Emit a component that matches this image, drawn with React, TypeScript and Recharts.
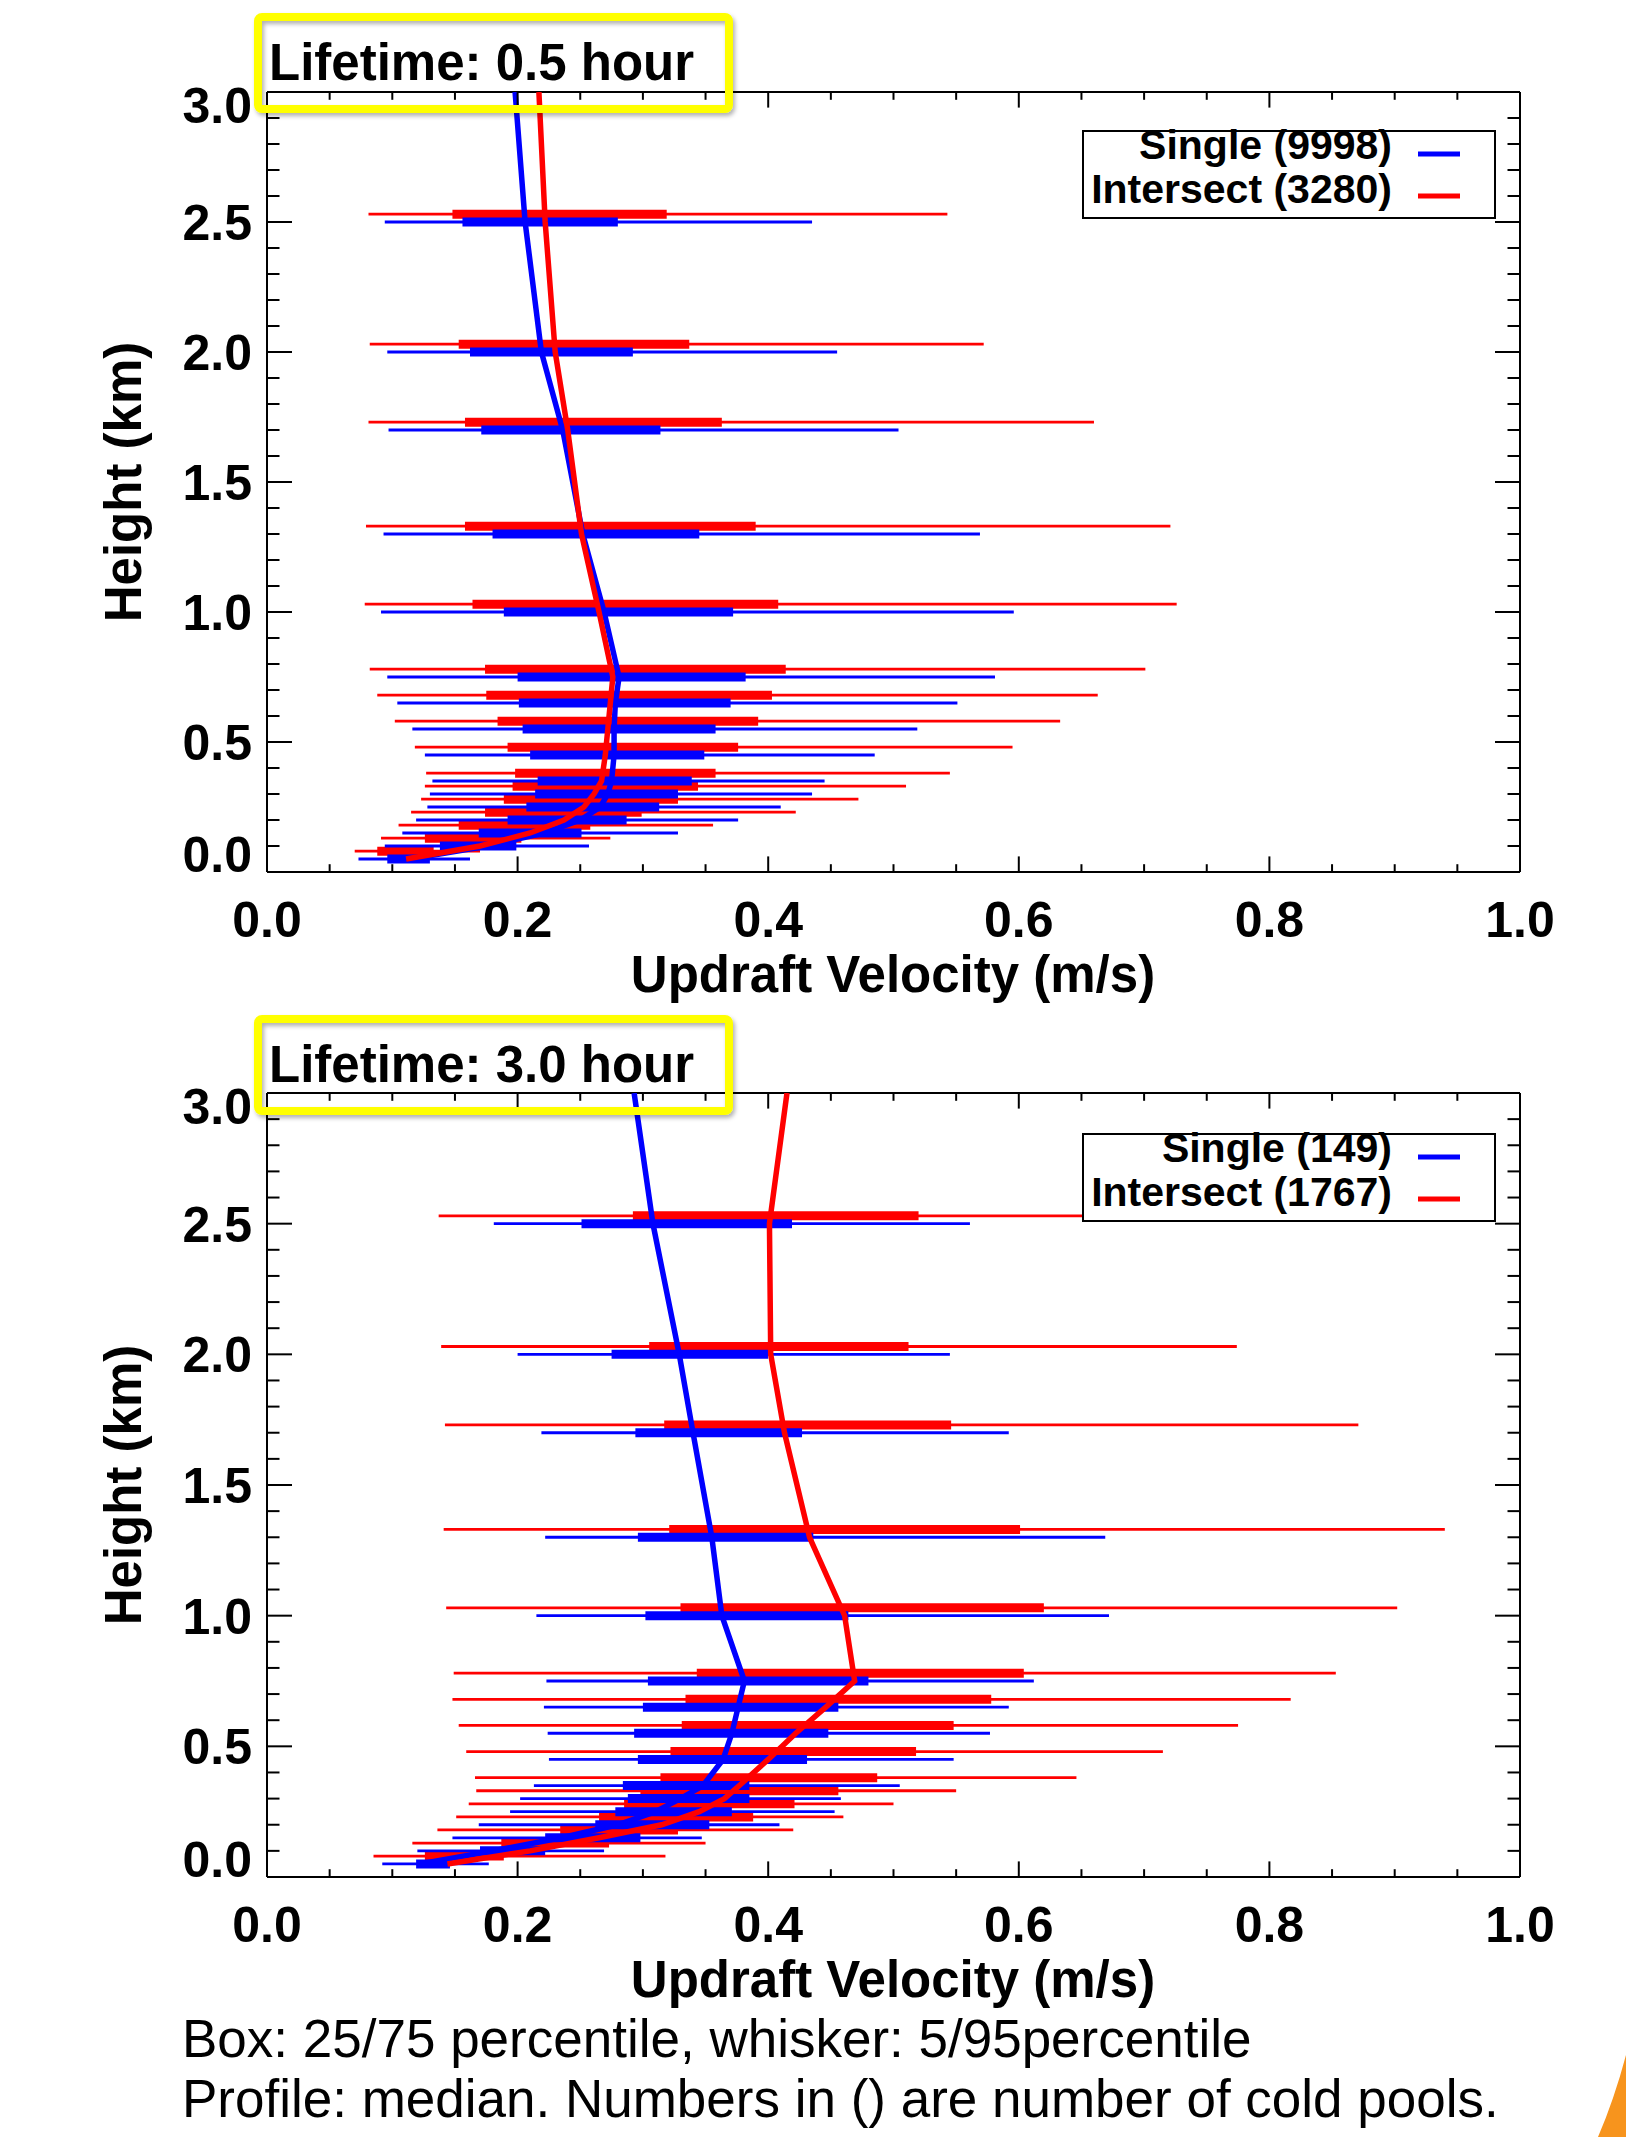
import React from 'react';
import { ComposedChart, Scatter, XAxis, YAxis, ErrorBar, ReferenceLine } from 'recharts';

const FONT = '"Liberation Sans", Arial, Helvetica, sans-serif';

// ---------- axes ----------
const xTicks = [0, 0.05, 0.1, 0.15, 0.2, 0.25, 0.3, 0.35, 0.4, 0.45, 0.5, 0.55, 0.6, 0.65, 0.7, 0.75, 0.8, 0.85, 0.9, 0.95, 1.0];
const xMajor = [0, 0.2, 0.4, 0.6, 0.8, 1.0];
const yTicks = [0, 0.1, 0.2, 0.3, 0.4, 0.5, 0.6, 0.7, 0.8, 0.9, 1.0, 1.1, 1.2, 1.3, 1.4, 1.5, 1.6, 1.7, 1.8, 1.9, 2.0, 2.1, 2.2, 2.3, 2.4, 2.5, 2.6, 2.7, 2.8, 2.9, 3.0];
const yMajor = [0, 0.5, 1.0, 1.5, 2.0, 2.5, 3.0];

// ---------- heights (km) ----------
const levels = [0.05, 0.1, 0.15, 0.2, 0.25, 0.3, 0.35, 0.45, 0.55, 0.65, 0.75, 1.0, 1.3, 1.7, 2.0, 2.5];
const profileHeights = [0.05, 0.1, 0.15, 0.2, 0.25, 0.3, 0.35, 0.45, 0.55, 0.65, 0.75, 1.0, 1.3, 1.7, 2.0, 2.5, 3.0];

// ---------- Lifetime 0.5 hour ----------
const single05P5 = [0.073, 0.094, 0.108, 0.119, 0.128, 0.130, 0.132, 0.126, 0.116, 0.104, 0.096, 0.091, 0.093, 0.097, 0.096, 0.094];
const single05P25 = [0.096, 0.138, 0.169, 0.192, 0.207, 0.214, 0.216, 0.210, 0.204, 0.201, 0.200, 0.189, 0.180, 0.171, 0.162, 0.156];
const single05P75 = [0.130, 0.199, 0.251, 0.287, 0.313, 0.328, 0.339, 0.349, 0.358, 0.370, 0.382, 0.372, 0.345, 0.314, 0.292, 0.280];
const single05P95 = [0.162, 0.257, 0.328, 0.376, 0.410, 0.435, 0.445, 0.485, 0.519, 0.551, 0.581, 0.596, 0.569, 0.504, 0.455, 0.435];
const single05Median = [0.114, 0.176, 0.221, 0.250, 0.266, 0.272, 0.275, 0.277, 0.277, 0.278, 0.281, 0.269, 0.252, 0.236, 0.219, 0.206, 0.198];

const inter05P5 = [0.070, 0.091, 0.105, 0.115, 0.123, 0.126, 0.127, 0.118, 0.102, 0.088, 0.082, 0.078, 0.079, 0.081, 0.082, 0.081];
const inter05P25 = [0.088, 0.126, 0.153, 0.174, 0.189, 0.196, 0.198, 0.192, 0.184, 0.175, 0.174, 0.164, 0.158, 0.158, 0.153, 0.148];
const inter05P75 = [0.133, 0.203, 0.258, 0.299, 0.328, 0.344, 0.358, 0.376, 0.392, 0.403, 0.414, 0.408, 0.390, 0.363, 0.337, 0.319];
const inter05P95 = [0.170, 0.274, 0.356, 0.422, 0.472, 0.510, 0.545, 0.595, 0.633, 0.663, 0.701, 0.726, 0.721, 0.660, 0.572, 0.543];
const inter05Median = [0.111, 0.170, 0.210, 0.237, 0.253, 0.261, 0.267, 0.270, 0.272, 0.274, 0.276, 0.265, 0.251, 0.240, 0.230, 0.222, 0.217];

// ---------- Lifetime 3.0 hour ----------
const single30P5 = [0.092, 0.120, 0.148, 0.169, 0.194, 0.202, 0.213, 0.225, 0.224, 0.221, 0.223, 0.215, 0.222, 0.219, 0.200, 0.181];
const single30P25 = [0.119, 0.170, 0.222, 0.262, 0.278, 0.288, 0.284, 0.296, 0.293, 0.300, 0.304, 0.302, 0.296, 0.294, 0.275, 0.251];
const single30P75 = [0.146, 0.222, 0.298, 0.353, 0.371, 0.385, 0.385, 0.431, 0.448, 0.456, 0.480, 0.464, 0.436, 0.427, 0.400, 0.419];
const single30P95 = [0.177, 0.269, 0.347, 0.409, 0.453, 0.458, 0.505, 0.548, 0.577, 0.592, 0.612, 0.672, 0.669, 0.592, 0.545, 0.561];
const single30Median = [0.122, 0.180, 0.235, 0.280, 0.310, 0.330, 0.348, 0.364, 0.371, 0.376, 0.381, 0.363, 0.355, 0.340, 0.329, 0.308, 0.293];

const inter30P5 = [0.085, 0.116, 0.136, 0.151, 0.161, 0.167, 0.166, 0.159, 0.153, 0.148, 0.149, 0.143, 0.141, 0.142, 0.139, 0.137];
const inter30P25 = [0.126, 0.187, 0.234, 0.265, 0.285, 0.298, 0.314, 0.322, 0.331, 0.334, 0.343, 0.330, 0.321, 0.317, 0.305, 0.292];
const inter30P75 = [0.189, 0.273, 0.328, 0.388, 0.421, 0.456, 0.487, 0.518, 0.548, 0.578, 0.604, 0.620, 0.601, 0.546, 0.512, 0.520];
const inter30P95 = [0.318, 0.350, 0.420, 0.460, 0.500, 0.550, 0.646, 0.715, 0.775, 0.817, 0.853, 0.902, 0.940, 0.871, 0.774, 0.800];
const inter30Median = [0.144, 0.210, 0.265, 0.315, 0.345, 0.365, 0.377, 0.400, 0.422, 0.446, 0.469, 0.461, 0.433, 0.413, 0.402, 0.401, 0.415];

// ---------- texts ----------
const panelTitles = ['Lifetime: 0.5 hour', 'Lifetime: 3.0 hour'];
const legendTop = ['Single (9998)', 'Intersect (3280)'];
const legendBottom = ['Single (149)', 'Intersect (1767)'];
const xTitle = 'Updraft Velocity (m/s)';
const yTitle = 'Height (km)';
const notes = ['Box: 25/75 percentile, whisker: 5/95percentile', 'Profile: median. Numbers in () are number of cold pools.'];

const BLUE = '#0000ff';
const RED = '#ff0000';
const RED_DODGE_KM = 0.03; // intersect boxes are drawn slightly above the single ones

function boxRows(median: number[], p5: number[], p25: number[], p75: number[], p95: number[], dodge: number) {
  return levels.map((h, i) => ({
    x: median[i],
    y: h + dodge,
    w: [median[i] - p5[i], p95[i] - median[i]],
    b: [median[i] - p25[i], p75[i] - median[i]],
  }));
}
function profileRows(median: number[]) {
  return profileHeights.map((h, i) => ({ x: median[i], y: h }));
}

const near = (v: number, list: number[]) => list.some((m) => Math.abs(m - v) < 1e-6);

const XTick = (props: any) => {
  const { x, y, payload, plotH } = props;
  const v = Number(payload.value);
  const major = near(v, xMajor);
  const len = major ? 15.6 : 7.8;
  return (
    <g>
      <line x1={x} x2={x} y1={y} y2={y - len} stroke="#000" strokeWidth={2} />
      <line x1={x} x2={x} y1={y - plotH} y2={y - plotH + len} stroke="#000" strokeWidth={2} />
      {major ? (
        <text x={x} y={y + 65} textAnchor="middle" fontFamily={FONT} fontWeight="bold" fontSize={50} fill="#000">
          {v.toFixed(1)}
        </text>
      ) : null}
    </g>
  );
};

const YTick = (props: any) => {
  const { x, y, payload, plotW } = props;
  const v = Number(payload.value);
  const major = near(v, yMajor);
  const len = major ? 25 : 12.5;
  let dy = 18;
  if (v > 2.999) dy = 31;
  if (v < 0.001) dy = 0;
  return (
    <g>
      <line x1={x} x2={x + len} y1={y} y2={y} stroke="#000" strokeWidth={2} />
      <line x1={x + plotW} x2={x + plotW - len} y1={y} y2={y} stroke="#000" strokeWidth={2} />
      {major ? (
        <text x={x - 15} y={y + dy} textAnchor="end" fontFamily={FONT} fontWeight="bold" fontSize={50} fill="#000">
          {v.toFixed(1)}
        </text>
      ) : null}
    </g>
  );
};

const Empty = () => <g />;

type PanelProps = {
  top: number;
  marginTop: number;
  xAxisH: number;
  sP5: number[]; sP25: number[]; sP75: number[]; sP95: number[]; sMed: number[];
  iP5: number[]; iP25: number[]; iP75: number[]; iP95: number[]; iMed: number[];
};

const CH_W = 1626;
const CH_H = 1000;
const Y_AXIS_W = 267;
const RIGHT_M = 106;

function Panel(p: PanelProps) {
  const plotW = CH_W - Y_AXIS_W - RIGHT_M;
  const plotH = CH_H - p.marginTop - p.xAxisH;
  const redBoxes = boxRows(p.iMed, p.iP5, p.iP25, p.iP75, p.iP95, RED_DODGE_KM);
  const blueBoxes = boxRows(p.sMed, p.sP5, p.sP25, p.sP75, p.sP95, 0);
  return (
    <div style={{ position: 'absolute', left: 0, top: p.top, width: CH_W, height: CH_H }}>
      <ComposedChart width={CH_W} height={CH_H} margin={{ top: p.marginTop, right: RIGHT_M, left: 0, bottom: 0 }}>
        <XAxis
          type="number"
          dataKey="x"
          domain={[0, 1]}
          allowDataOverflow
          ticks={xTicks}
          interval={0}
          tickSize={0}
          tickMargin={0}
          tickLine={false}
          axisLine={{ stroke: '#000', strokeWidth: 2 }}
          height={p.xAxisH}
          tick={<XTick plotH={plotH} />}
        />
        <YAxis
          type="number"
          dataKey="y"
          domain={[0, 3]}
          allowDataOverflow
          ticks={yTicks}
          interval={0}
          tickSize={0}
          tickMargin={0}
          tickLine={false}
          axisLine={{ stroke: '#000', strokeWidth: 2 }}
          width={Y_AXIS_W}
          tick={<YTick plotW={plotW} />}
        />
        <ReferenceLine y={3} stroke="#000" strokeWidth={2} />
        <ReferenceLine x={1} stroke="#000" strokeWidth={2} />
        <Scatter data={redBoxes} fill={RED} shape={Empty} isAnimationActive={false} legendType="none">
          <ErrorBar dataKey="w" direction="x" width={0} stroke={RED} strokeWidth={2.8} isAnimationActive={false} />
          <ErrorBar dataKey="b" direction="x" width={0} stroke={RED} strokeWidth={9} isAnimationActive={false} />
        </Scatter>
        <Scatter data={blueBoxes} fill={BLUE} shape={Empty} isAnimationActive={false} legendType="none">
          <ErrorBar dataKey="w" direction="x" width={0} stroke={BLUE} strokeWidth={2.8} isAnimationActive={false} />
          <ErrorBar dataKey="b" direction="x" width={0} stroke={BLUE} strokeWidth={9} isAnimationActive={false} />
        </Scatter>
        <Scatter
          data={profileRows(p.sMed)}
          fill={BLUE}
          shape={Empty}
          line={{ stroke: BLUE, strokeWidth: 5.5 }}
          isAnimationActive={false}
          legendType="none"
        />
        <Scatter
          data={profileRows(p.iMed)}
          fill={RED}
          shape={Empty}
          line={{ stroke: RED, strokeWidth: 5.5 }}
          isAnimationActive={false}
          legendType="none"
        />
      </ComposedChart>
    </div>
  );
}

function Decorations() {
  const bold = { fontFamily: FONT, fontWeight: 'bold' as const, fill: '#000' };
  const panel = (dy: number, title: string, legend: string[], plotMidY: number, xTitleY: number, legDy: number) => (
    <g>
      <text x={893} y={xTitleY} textAnchor="middle" fontSize={51} {...bold}>{xTitle}</text>
      <text transform={`translate(141, ${plotMidY}) rotate(-90)`} textAnchor="middle" fontSize={51} {...bold}>{yTitle}</text>
      <rect x={258} y={17 + dy} width={471} height={92} rx={4} fill="none" stroke="#ffff00" strokeWidth={8} filter="url(#shadow)" />
      <text x={269} y={80 + dy} fontSize={51} {...bold}>{title}</text>
      <rect x={1083} y={131 + legDy} width={412} height={87} fill="#fff" stroke="#000" strokeWidth={2} />
      <text x={1392} y={159 + legDy} textAnchor="end" fontSize={41} {...bold}>{legend[0]}</text>
      <text x={1392} y={203 + legDy} textAnchor="end" fontSize={41} {...bold}>{legend[1]}</text>
      <line x1={1418} x2={1460} y1={154 + legDy} y2={154 + legDy} stroke={BLUE} strokeWidth={5} />
      <line x1={1418} x2={1460} y1={196 + legDy} y2={196 + legDy} stroke={RED} strokeWidth={5} />
    </g>
  );
  return (
    <svg
      width={1626}
      height={2137}
      style={{ position: 'absolute', left: 0, top: 0, pointerEvents: 'none' }}
    >
      <defs>
        <filter id="shadow" x="-10%" y="-20%" width="120%" height="150%">
          <feDropShadow dx="2" dy="3" stdDeviation="2" floodColor="#000" floodOpacity="0.3" />
        </filter>
      </defs>
      {panel(0, panelTitles[0], legendTop, 482, 992, 0)}
      {panel(1002, panelTitles[1], legendBottom, 1485, 1997, 1003)}
      <text x={182} y={2057} fontSize={53} fontFamily={FONT} fill="#000">{notes[0]}</text>
      <text x={182} y={2117} fontSize={53} fontFamily={FONT} fill="#000">{notes[1]}</text>
      <path d="M 1626 2055 Q 1614 2100 1598 2137 L 1626 2137 Z" fill="#f7941d" />
    </svg>
  );
}

export default function App() {
  return (
    <div style={{ width: 1610, height: 2121 }}>
      <Panel
        top={0}
        marginTop={92}
        xAxisH={128}
        sP5={single05P5} sP25={single05P25} sP75={single05P75} sP95={single05P95} sMed={single05Median}
        iP5={inter05P5} iP25={inter05P25} iP75={inter05P75} iP95={inter05P95} iMed={inter05Median}
      />
      <Panel
        top={1000}
        marginTop={93}
        xAxisH={123}
        sP5={single30P5} sP25={single30P25} sP75={single30P75} sP95={single30P95} sMed={single30Median}
        iP5={inter30P5} iP25={inter30P25} iP75={inter30P75} iP95={inter30P95} iMed={inter30Median}
      />
      <Decorations />
    </div>
  );
}
